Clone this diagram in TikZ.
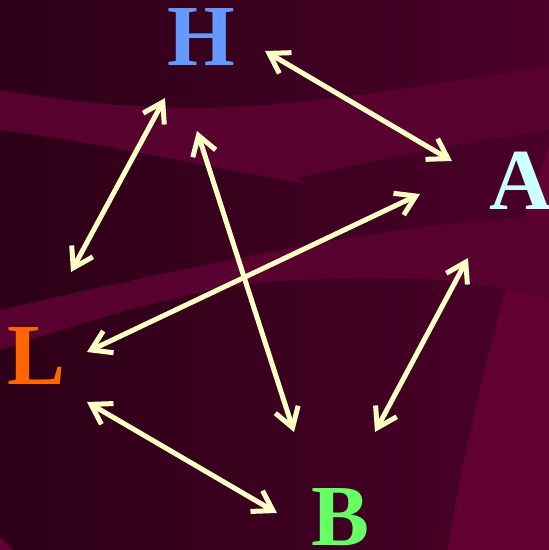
\documentclass[tikz,border=0pt]{standalone}
\usepackage{fontspec}
\setmainfont{Liberation Serif}
\usetikzlibrary{arrows.meta}
\definecolor{bgL}{RGB}{44,0,22}
\definecolor{bgR}{RGB}{74,0,40}
\definecolor{band}{RGB}{88,0,46}
\definecolor{bandB}{RGB}{98,0,52}
\definecolor{cream}{RGB}{255,255,200}
\definecolor{cH}{RGB}{102,153,255}
\definecolor{cA}{RGB}{204,255,255}
\definecolor{cL}{RGB}{255,102,0}
\definecolor{cB}{RGB}{102,255,102}
\begin{document}
\begin{tikzpicture}[x=1pt,y=-1pt,
  letter/.style={font=\fontsize{87}{87}\selectfont\bfseries, inner sep=0pt, anchor=base},
  link/.style={draw=cream, line width=5pt,
    {Straight Barb[length=19pt,width=24pt]}-{Straight Barb[length=19pt,width=24pt]}}]
\useasboundingbox (0,0) rectangle (549,550);
\shade[left color=bgL, right color=bgR] (0,0) rectangle (549,550);
% large lighter region on the right
\fill[bandB] (549,145) .. controls (525,220) and (470,400) .. (448,550) -- (549,550) -- cycle;
\fill[bandB] (0,537) -- (13,550) -- (0,550) -- cycle;
% upper band
\fill[band] (0,90) .. controls (60,100) and (120,108) .. (200,108)
  .. controls (300,107) and (420,86) .. (549,66) -- (549,130)
  .. controls (450,145) and (350,165) .. (298,178) -- (306,184)
  .. controls (200,165) and (80,140) .. (0,130) -- cycle;
% middle band
\fill[band] (0,310) .. controls (100,287) and (180,270) .. (245,257)
  .. controls (350,236) and (450,220) .. (549,217) -- (549,300)
  .. controls (520,292) and (480,281) .. (420,279)
  .. controls (350,277) and (280,280) .. (245,284)
  .. controls (150,300) and (60,330) .. (0,350) -- cycle;
% letters
\node[letter, text=cH] (H) at (201.5,65) {H};
\node[letter, text=cA] (A) at (521,209) {A};
\node[letter, text=cL] (L) at (36.5,384) {L};
\node[letter, text=cB] (B) at (340.5,545) {B};
% arrow ends
\coordinate (ha) at (265,51);  \coordinate (ah) at (452,161);
\coordinate (hl) at (165,98);  \coordinate (lh) at (71,272);
\coordinate (hb) at (197,131); \coordinate (bh) at (294,432);
\coordinate (al) at (420,194); \coordinate (la) at (87,352);
\coordinate (ab) at (468,258); \coordinate (ba) at (375,432);
\coordinate (lb) at (87,402);  \coordinate (bl) at (277,513);
\draw[link] (ha) -- (ah);
\draw[link] (hl) -- (lh);
\draw[link] (hb) -- (bh);
\draw[link] (al) -- (la);
\draw[link] (ab) -- (ba);
\draw[link] (lb) -- (bl);
\end{tikzpicture}
\end{document}
